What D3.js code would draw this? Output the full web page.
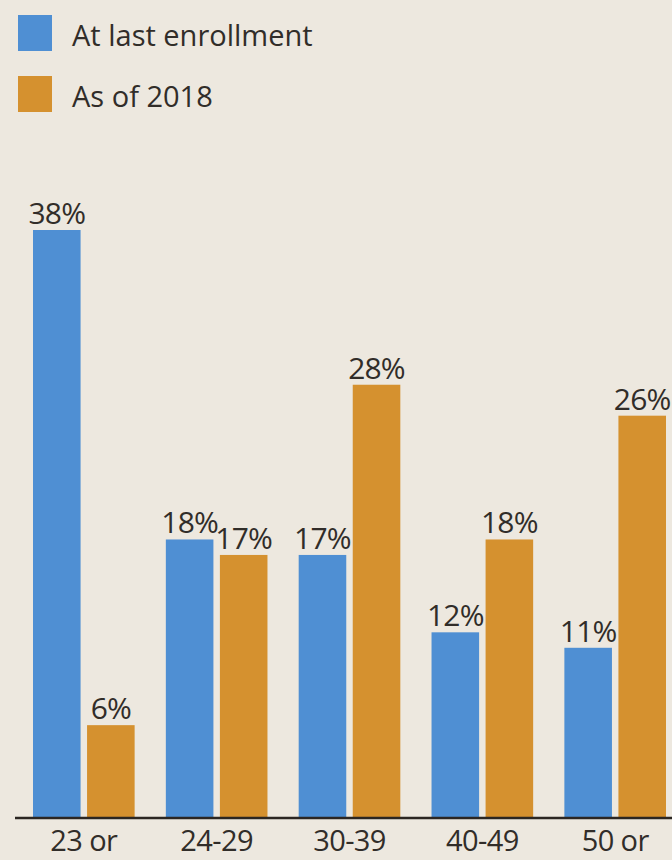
<!DOCTYPE html>
<html>
<head>
<meta charset="utf-8">
<script src="https://cdn.jsdelivr.net/npm/d3@7"></script>
<style>
  body { margin: 0; background: #ede8df; }
  svg { display: block; }
  text { font-family: "Open Sans", sans-serif; fill: #312d29; }
</style>
</head>
<body>
<div id="chart"></div>
<script>
var ageGroups = ["23 or", "24-29", "30-39", "40-49", "50 or"];
var atLastEnrollment = [38, 18, 17, 12, 11];
var asOf2018 = [6, 17, 28, 18, 26];
var seriesNames = ["At last enrollment", "As of 2018"];
var seriesColors = ["#4f8fd3", "#d5912f"];

var width = 672, height = 860;
var baseY = 818;

var svg = d3.select("#chart").append("svg")
    .attr("width", width)
    .attr("height", height);

var x0 = d3.scaleBand()
    .domain(ageGroups)
    .range([33, 666])
    .paddingInner(0.235)
    .paddingOuter(0);

var x1 = d3.scaleBand()
    .domain([0, 1])
    .range([0, x0.bandwidth()])
    .paddingInner(0.12);

var y = d3.scaleLinear()
    .domain([0, 38])
    .range([baseY, 230]);

var rows = ageGroups.map(function (g, i) {
  return { group: g, values: [atLastEnrollment[i], asOf2018[i]] };
});

var groups = svg.selectAll(".group")
    .data(rows)
    .enter().append("g")
    .attr("class", "group")
    .attr("transform", function (d) { return "translate(" + x0(d.group) + ",0)"; });

var bars = groups.selectAll(".bar")
    .data(function (d) { return d.values.map(function (v, k) { return { k: k, v: v }; }); })
    .enter();

bars.append("rect")
    .attr("class", "bar")
    .attr("x", function (d) { return x1(d.k); })
    .attr("y", function (d) { return y(d.v); })
    .attr("width", x1.bandwidth())
    .attr("height", function (d) { return baseY - y(d.v); })
    .style("fill", function (d) { return seriesColors[d.k]; });

bars.append("text")
    .attr("x", function (d) { return x1(d.k) + x1.bandwidth() / 2; })
    .attr("y", function (d) { return y(d.v) - 6; })
    .attr("text-anchor", "middle")
    .style("font-size", "30px")
    .style("letter-spacing", "-0.8px")
    .text(function (d) { return d.v + "%"; });

// baseline
svg.append("line")
    .attr("x1", 15).attr("x2", width)
    .attr("y1", baseY).attr("y2", baseY)
    .style("stroke", "#2b2622")
    .style("stroke-width", 2.5);

var xAxis = d3.axisBottom(x0).tickSize(0).tickPadding(0);
var ax = svg.append("g")
    .attr("transform", "translate(0," + baseY + ")")
    .call(xAxis);
ax.select(".domain").remove();
ax.selectAll("text")
    .attr("y", 33)
    .attr("dy", 0)
    .style("font-size", "29px")
    .style("letter-spacing", "-0.6px")
    .style("fill", "#312d29");

// legend
var legend = svg.selectAll(".legend")
    .data(seriesNames)
    .enter().append("g")
    .attr("class", "legend")
    .attr("transform", function (d, i) { return "translate(18," + (15 + i * 61) + ")"; });

legend.append("rect")
    .attr("width", 34)
    .attr("height", 36)
    .style("fill", function (d, i) { return seriesColors[i]; });

legend.append("text")
    .attr("x", 54)
    .attr("y", 31)
    .style("font-size", "29px")
    .text(function (d) { return d; });
</script>
</body>
</html>
